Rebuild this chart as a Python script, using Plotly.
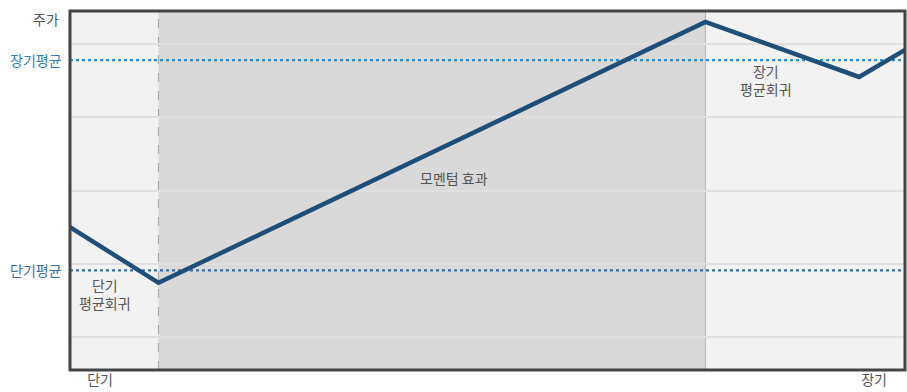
import plotly.graph_objects as go

# Price path (x: time position 0-100, y: price level)
path_x = [0, 10.6, 76.1, 94.5, 100]
path_y = [1.50, 0.74, 4.30, 3.55, 3.92]

# Reference levels
long_avg = 3.78
short_avg = 0.91

# Momentum phase boundaries
momentum_start = 10.6
momentum_end = 76.1

# Axis labels
x_tick_vals = [3.6, 96.3]
x_tick_text = ["단기", "장기"]
y_axis_title = "주가"
long_avg_label = "장기평균"
short_avg_label = "단기평균"

# Region labels
region_labels = [
    {"x": 4.2, "y": 0.59, "text": "단기<br>평균회귀"},
    {"x": 83.3, "y": 3.51, "text": "장기<br>평균회귀"},
    {"x": 46.0, "y": 2.17, "text": "모멘텀 효과"},
]

FONT = "Noto Sans CJK KR"

fig = go.Figure()

fig.add_trace(go.Scatter(
    x=[0, 100], y=[long_avg, long_avg], mode="lines",
    line=dict(color="#2b8fd6", width=2.2, dash="dot"), hoverinfo="skip",
))
fig.add_trace(go.Scatter(
    x=[0, 100], y=[short_avg, short_avg], mode="lines",
    line=dict(color="#3a6ea8", width=2.2, dash="dot"), hoverinfo="skip",
))
fig.add_trace(go.Scatter(
    x=path_x, y=path_y, mode="lines",
    line=dict(color="#1f4e79", width=4.5), hoverinfo="skip",
))

# shaded momentum region
fig.add_shape(type="rect", xref="x", yref="paper",
              x0=momentum_start, x1=momentum_end, y0=0, y1=1,
              fillcolor="#d9d9d9", line=dict(width=0), layer="below")
fig.add_shape(type="line", xref="x", yref="paper",
              x0=momentum_start, x1=momentum_start, y0=0, y1=1,
              line=dict(color="#a8a8a8", width=1.2, dash="dash"), layer="below")
fig.add_shape(type="line", xref="x", yref="paper",
              x0=momentum_end, x1=momentum_end, y0=0, y1=1,
              line=dict(color="#b8b8b8", width=1.2), layer="below")
# frame
fig.add_shape(type="rect", xref="paper", yref="paper",
              x0=0, x1=1, y0=0, y1=1,
              line=dict(color="#444444", width=3), layer="above")

for r in region_labels:
    fig.add_annotation(x=r["x"], y=r["y"], text=r["text"], showarrow=False,
                       font=dict(family=FONT, size=14, color="#555555"),
                       align="center")

fig.add_annotation(x=0, xref="paper", y=long_avg, yref="y", xshift=-6,
                   text=long_avg_label, showarrow=False, xanchor="right",
                   font=dict(family=FONT, size=14, color="#2b7fc4"))
fig.add_annotation(x=0, xref="paper", y=short_avg, yref="y", xshift=-6,
                   text=short_avg_label, showarrow=False, xanchor="right",
                   font=dict(family=FONT, size=14, color="#3a6ea8"))
fig.add_annotation(x=0, xref="paper", y=1, yref="paper", xshift=-9, yshift=4,
                   text=y_axis_title, showarrow=False, xanchor="right", yanchor="top",
                   font=dict(family=FONT, size=14, color="#555555"))

fig.update_xaxes(range=[0, 100], tickvals=x_tick_vals, ticktext=x_tick_text,
                 showgrid=False, zeroline=False, ticks="", ticklen=0,
                 tickfont=dict(family=FONT, size=14, color="#555555"))
fig.update_yaxes(range=[-0.45, 4.45], tickvals=[0, 1, 2, 3, 4],
                 showticklabels=False, showgrid=True, gridcolor="#e0e0e0",
                 gridwidth=2, zeroline=False)

fig.update_layout(
    width=907, height=392,
    margin=dict(l=70, r=2, t=11, b=22, pad=0),
    plot_bgcolor="#f2f2f2", paper_bgcolor="#ffffff",
    showlegend=False,
    font=dict(family=FONT),
)

fig.write_html("out.html")
